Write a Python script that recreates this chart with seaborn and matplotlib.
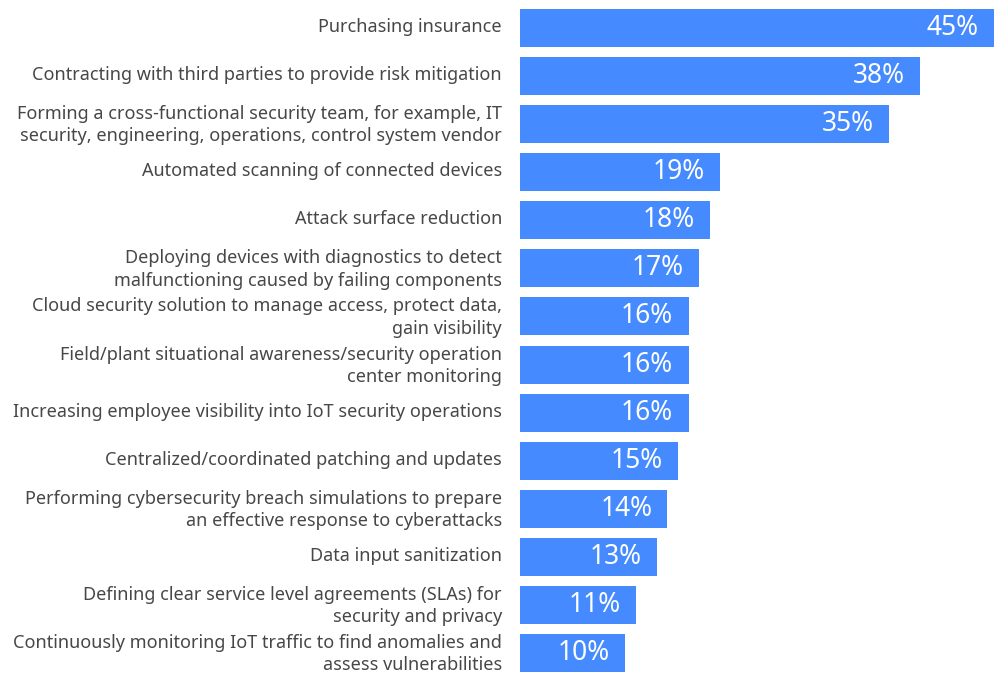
import matplotlib
matplotlib.use("Agg")
import matplotlib.pyplot as plt
import matplotlib.transforms as mtransforms
import seaborn as sns
import pandas as pd

categories = [
    "Purchasing insurance",
    "Contracting with third parties to provide risk mitigation",
    "Forming a cross-functional security team, for example, IT\nsecurity, engineering, operations, control system vendor",
    "Automated scanning of connected devices",
    "Attack surface reduction",
    "Deploying devices with diagnostics to detect\nmalfunctioning caused by failing components",
    "Cloud security solution to manage access, protect data,\ngain visibility",
    "Field/plant situational awareness/security operation\ncenter monitoring",
    "Increasing employee visibility into IoT security operations",
    "Centralized/coordinated patching and updates",
    "Performing cybersecurity breach simulations to prepare\nan effective response to cyberattacks",
    "Data input sanitization",
    "Defining clear service level agreements (SLAs) for\nsecurity and privacy",
    "Continuously monitoring IoT traffic to find anomalies and\nassess vulnerabilities",
]
values = [45, 38, 35, 19, 18, 17, 16, 16, 16, 15, 14, 13, 11, 10]

df = pd.DataFrame({"category": categories, "value": values})

sns.set_theme(style="white")
plt.rcParams["font.family"] = ["Noto Sans", "DejaVu Sans"]

W, H = 996, 675
fig = plt.figure(figsize=(W / 100, H / 100), dpi=100)
ax = fig.add_axes([520 / W, -2 / H, 474 / W, 673 / H])

bar_color = "#458aff"
sns.barplot(data=df, y="category", x="value", orient="h", color=bar_color,
            width=0.79, saturation=1, linewidth=0, ax=ax)

ax.set_xlim(0, 45)
ax.set_ylim(len(values) - 0.5, -0.5)
ax.set_xlabel("")
ax.set_ylabel("")
ax.set_xticks([])
sns.despine(ax=ax, left=True, bottom=True)
ax.tick_params(axis="y", length=0, pad=13, labelsize=13, labelcolor="#474747")
shift = mtransforms.ScaledTranslation(0, 3 / 100, fig.dpi_scale_trans)
for lbl in ax.get_yticklabels():
    lbl.set_linespacing(1.3)
    lbl.set_transform(lbl.get_transform() + shift)

for i, v in enumerate(values):
    ax.annotate(f"{v}%", xy=(v, i), xytext=(-11, 0), textcoords="offset points",
                ha="right", va="center", color="white", fontsize=19)

fig.savefig("out.png", dpi=100)
